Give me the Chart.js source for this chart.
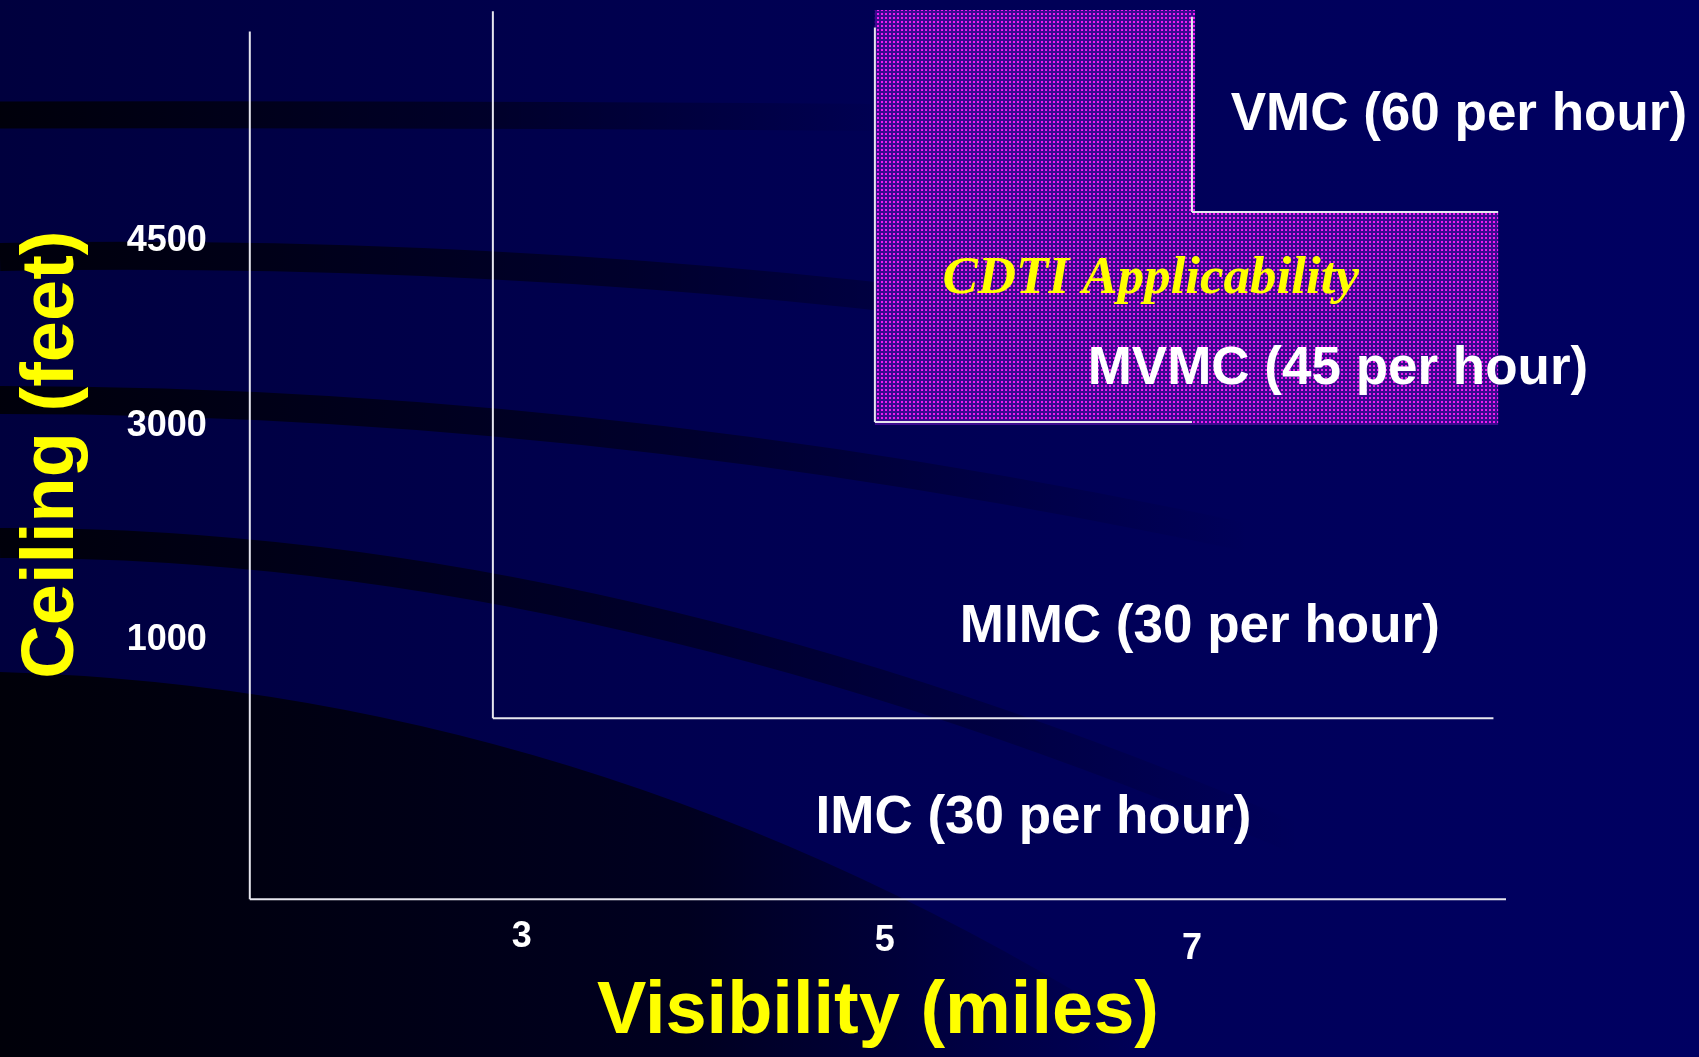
<!DOCTYPE html>
<html>
<head>
<meta charset="utf-8">
<title>CDTI Applicability</title>
<script src="https://cdn.jsdelivr.net/npm/chart.js@4.4.1/dist/chart.umd.min.js"></script>
<style>
	html, body { margin: 0; padding: 0; background: #000050; overflow: hidden; }
	#wrap { width: 1699px; height: 1057px; }
</style>
</head>
<body>
<div id="wrap"><canvas id="weather"></canvas></div>
<script>

	/* Data - weather minima (visibility in miles, ceiling in feet) */
	var visibilityTicks = [3, 5, 7];
	var ceilingTicks = [4500, 3000, 1000];
	var visibilityRange = [0, 9];
	var ceilingRange = [0, 6000];

	var regionNames = ['VMC (60 per hour)', 'MVMC (45 per hour)', 'MIMC (30 per hour)', 'IMC (30 per hour)'];
	var cdtiName = 'CDTI Applicability';

	// boundary segments: [from, to]
	var boundaryVis  = [[0, 0],    [0, 9], [3, 3],       [3, 8.92],    [5, 5],       [5, 7],       [7, 7],       [7, 8.95]];
	var boundaryCeil = [[0, 5840], [0, 0], [1000, 5990], [1000, 1000], [3000, 5870], [3000, 3000], [4500, 5950], [4500, 4500]];

	// CDTI applicability area (outline)
	var cdtiVis  = [5, 7.02, 7.02, 8.95, 8.95, 5];
	var cdtiCeil = [6000, 6000, 4500, 4500, 2980, 2980];


	var SANS = '"Liberation Sans", Arial, sans-serif';
	var SERIF = '"Liberation Serif", "Times New Roman", serif';


	/* ********************************

	    Piecewise scale - schematic axis

	******************************** */

	class PiecewiseScale extends Chart.LinearScale {
		toDecimal(value) {
			var stops = this.options.stops;
			for (var i = 1; i < stops.length; i++) {
				var v0 = stops[i - 1][0], d0 = stops[i - 1][1];
				var v1 = stops[i][0], d1 = stops[i][1];
				if (value <= v1 || i === stops.length - 1) {
					return d0 + (value - v0) / (v1 - v0) * (d1 - d0);
				}
			}
			return 0;
		}
		getPixelForValue(value) {
			if (value === null || value === undefined) return NaN;
			return this.getPixelForDecimal(this.toDecimal(value));
		}
		getValueForPixel(pixel) {
			var d = this.getDecimalForPixel(pixel);
			var stops = this.options.stops;
			for (var i = 1; i < stops.length; i++) {
				var v0 = stops[i - 1][0], d0 = stops[i - 1][1];
				var v1 = stops[i][0], d1 = stops[i][1];
				if (d <= d1 || i === stops.length - 1) {
					return v0 + (d - d0) / (d1 - d0) * (v1 - v0);
				}
			}
			return 0;
		}
	}
	PiecewiseScale.id = 'piecewise';
	PiecewiseScale.defaults = Chart.LinearScale.defaults;
	Chart.register(PiecewiseScale);


	/* ********************************

	    Plugins - slide background and text

	******************************** */

	var slideBackground = {
		id: 'slideBackground',
		beforeDraw: function(chart) {
			var ctx = chart.ctx, w = chart.width, h = chart.height;
			ctx.save();

			var g = ctx.createLinearGradient(0, 0, w, 0);
			g.addColorStop(0, '#00003e');
			g.addColorStop(0.45, '#000052');
			g.addColorStop(1, '#000062');
			ctx.fillStyle = g;
			ctx.fillRect(0, 0, w, h);

			// dark region lower left
			var dg = ctx.createLinearGradient(0, 0, 1150, 0);
			dg.addColorStop(0, 'rgba(0,0,6,0.95)');
			dg.addColorStop(0.6, 'rgba(0,0,12,0.7)');
			dg.addColorStop(1, 'rgba(0,0,20,0)');
			ctx.fillStyle = dg;
			ctx.beginPath();
			ctx.moveTo(0, 672);
			ctx.quadraticCurveTo(620, 690, 1180, h);
			ctx.lineTo(0, h);
			ctx.closePath();
			ctx.fill();

			// swoosh bands
			var bands = [
				[0, 115, 450, 114, 950, 118, 27, 900],
				[0, 257, 650, 245, 1300, 355, 28, 1150],
				[0, 400, 650, 400, 1350, 560, 28, 1250],
				[0, 543, 600, 540, 1300, 840, 30, 1300]
			];
			bands.forEach(function(b) {
				var sg = ctx.createLinearGradient(0, 0, b[7], 0);
				sg.addColorStop(0, 'rgba(0,0,8,0.95)');
				sg.addColorStop(0.55, 'rgba(0,0,16,0.55)');
				sg.addColorStop(1, 'rgba(0,0,20,0)');
				ctx.strokeStyle = sg;
				ctx.lineWidth = b[6];
				ctx.beginPath();
				ctx.moveTo(b[0], b[1]);
				ctx.quadraticCurveTo(b[2], b[3], b[4], b[5]);
				ctx.stroke();
			});
			ctx.restore();
		}
	};

	var chartText = {
		id: 'chartText',
		afterDatasetsDraw: function(chart, args, opts) {
			var ctx = chart.ctx;
			var x = chart.scales.x, y = chart.scales.y;
			var dy = opts.textDy;
			ctx.save();
			ctx.textAlign = 'center';
			ctx.textBaseline = 'middle';

			// tick labels
			ctx.fillStyle = '#ffffff';
			ctx.font = 'bold 36px ' + SANS;
			visibilityTicks.forEach(function(v, i) {
				var n = opts.xTickNudge[i];
				ctx.fillText(String(v), x.getPixelForValue(v) + n[0], y.getPixelForValue(0) + n[1] + dy);
			});
			ceilingTicks.forEach(function(v, i) {
				var n = opts.yTickNudge[i];
				ctx.fillText(String(v), x.left + n[0], y.getPixelForValue(v) + n[1] + dy);
			});

			// region names
			ctx.font = 'bold 53px ' + SANS;
			regionNames.forEach(function(name, i) {
				var a = opts.regionAnchors[i];
				ctx.fillText(name, x.getPixelForValue(a[0]), y.getPixelForValue(a[1]) + dy);
			});

			ctx.fillStyle = '#ffff00';
			ctx.font = 'italic bold 53px ' + SERIF;
			ctx.fillText(cdtiName, x.getPixelForValue(opts.cdtiAnchor[0]), y.getPixelForValue(opts.cdtiAnchor[1]) + dy);
			ctx.restore();
		}
	};


	/* ********************************

	    Chart - Weather conditions

	******************************** */

	function dotPattern() {
		var c = document.createElement('canvas');
		c.width = 4; c.height = 4;
		var g = c.getContext('2d');
		g.fillStyle = '#3a0a8e';
		g.fillRect(0, 0, 4, 4);
		g.fillStyle = '#f01cf0';
		g.fillRect(1, 1, 2, 2);
		return g.createPattern(c, 'repeat');
	}

	function buildWeatherChart() {

		var datasets = [];

		boundaryVis.forEach(function(vis, i) {
			datasets.push({
				label: 'boundary ' + i,
				data: [{ x: vis[0], y: boundaryCeil[i][0] }, { x: vis[1], y: boundaryCeil[i][1] }],
				borderColor: '#e6e6ee',
				borderWidth: 2,
				pointRadius: 0,
				fill: false,
				clip: false,
				order: 1
			});
		});

		datasets.push({
			label: cdtiName,
			data: cdtiVis.map(function(v, i) { return { x: v, y: cdtiCeil[i] }; }),
			borderColor: 'rgba(0,0,0,0)',
			borderWidth: 1,
			backgroundColor: dotPattern(),
			pointRadius: 0,
			fill: 'shape',
			clip: false,
			order: 2
		});

		var titleFont = { family: SANS, size: 74, weight: 'bold' };

		new Chart(document.getElementById('weather'), {
			type: 'line',
			data: { datasets: datasets },
			plugins: [slideBackground, chartText],
			options: {
				responsive: true,
				maintainAspectRatio: false,
				animation: false,
				events: [],
				layout: { padding: { left: 0, top: 10, right: 193, bottom: 0 } },
				elements: { line: { tension: 0 } },
				plugins: {
					legend: { display: false },
					tooltip: { enabled: false },
					chartText: {
						textDy: 3,
						xTickNudge: [[29, 35], [10, 39], [0, 47]],
						yTickNudge: [[-83, 26], [-83, 1], [-83, -81]],
						regionAnchors: [[8.70, 5243], [7.93, 3400], [7.05, 1635], [6.0, 464]],
						cdtiAnchor: [6.74, 4043]
					}
				},
				scales: {
					x: {
						type: 'piecewise',
						min: visibilityRange[0],
						max: visibilityRange[1],
						stops: [[0, 0], [3, 0.1935], [5, 0.4976], [7, 0.75], [9, 1]],
						grid: { display: false, drawTicks: false },
						border: { display: false },
						ticks: { display: false },
						title: { display: true, text: 'Visibility (miles)', color: '#ffff00', font: titleFont, padding: { top: 69, bottom: 0 } }
					},
					y: {
						type: 'piecewise',
						min: ceilingRange[0],
						max: ceilingRange[1],
						stops: [[0, 0], [1000, 0.2036], [3000, 0.5366], [4500, 0.7728], [6000, 1]],
						grid: { display: false, drawTicks: false },
						border: { display: false },
						ticks: { display: false },
						title: { display: true, text: 'Ceiling (feet)', color: '#ffff00', font: titleFont, padding: { top: 8, bottom: 153 } }
					}
				}
			}
		});
	};
	buildWeatherChart();

</script>
</body>
</html>
